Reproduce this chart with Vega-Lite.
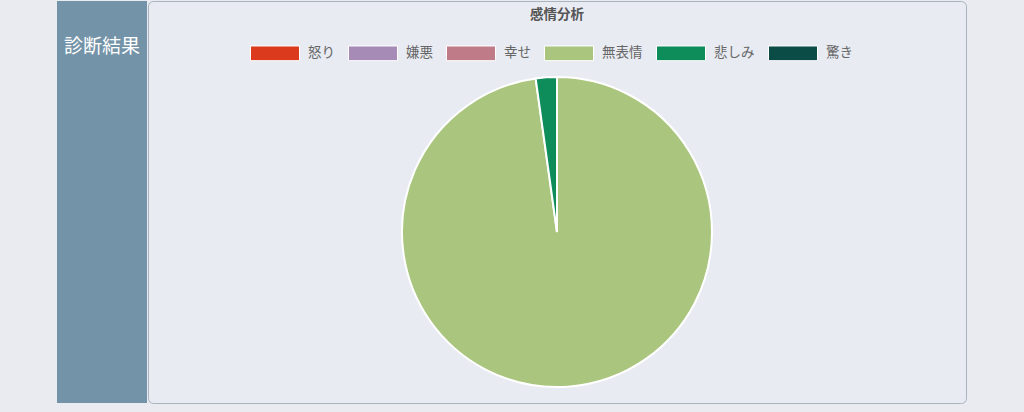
{
  "$schema": "https://vega.github.io/schema/vega-lite/v6.json",
  "background": "#e9ebf0",
  "padding": {"left": 57, "top": 0, "right": 58, "bottom": 10},
  "spacing": 0,
  "config": {
    "font": "Noto Sans CJK JP",
    "concat": {"spacing": 0}
  },
  "hconcat": [
    {
      "width": 90,
      "height": 402,
      "view": {"fill": "#7393a8", "stroke": null},
      "data": {"values": [{"label": "診断結果"}]},
      "mark": {
        "type": "text",
        "color": "white",
        "fontSize": 19,
        "font": "Noto Sans CJK JP",
        "fontWeight": "normal",
        "dy": -155
      },
      "encoding": {"text": {"field": "label"}}
    },
    {
      "width": 818,
      "height": 402,
      "view": {"fill": "#e8ebf2", "stroke": "#a9b4bf", "cornerRadius": 5},
      "layer": [
        {
          "data": {
            "values": [
              {"emotion": "怒り", "value": 0, "order": 1},
              {"emotion": "嫌悪", "value": 0, "order": 2},
              {"emotion": "幸せ", "value": 0, "order": 3},
              {"emotion": "無表情", "value": 97.8, "order": 4},
              {"emotion": "悲しみ", "value": 2.2, "order": 5},
              {"emotion": "驚き", "value": 0, "order": 6}
            ]
          },
          "mark": {
            "type": "arc",
            "radius": 155,
            "yOffset": 30,
            "stroke": "white",
            "strokeWidth": 2
          },
          "encoding": {
            "theta": {"field": "value", "type": "quantitative", "stack": true},
            "order": {"field": "order", "type": "quantitative"},
            "color": {
              "field": "emotion",
              "type": "nominal",
              "scale": {
                "domain": ["怒り", "嫌悪", "幸せ", "無表情", "悲しみ", "驚き"],
                "range": ["#dc3a1c", "#a78bb7", "#c07b88", "#aac57d", "#0e8c5a", "#0b4c47"]
              },
              "legend": {
                "title": null,
                "orient": "none",
                "direction": "horizontal",
                "legendX": 102,
                "legendY": 27,
                "symbolType": "M-1,-0.3H1V0.3H-1Z",
                "symbolSize": 2400,
                "symbolStrokeColor": "white",
                "symbolStrokeWidth": 1,
                "symbolOpacity": 1,
                "labelFontSize": 13.5,
                "labelColor": "#666666",
                "labelFont": "Noto Sans CJK JP",
                "labelOffset": 8,
                "columnPadding": 11
              }
            }
          }
        },
        {
          "data": {"values": [{"title": "感情分析"}]},
          "mark": {
            "type": "text",
            "fontSize": 13.5,
            "fontWeight": "bold",
            "color": "#555555",
            "font": "Noto Sans CJK JP",
            "dy": -187
          },
          "encoding": {"text": {"field": "title"}}
        }
      ]
    }
  ],
  "resolve": {"legend": {"color": "independent"}}
}
